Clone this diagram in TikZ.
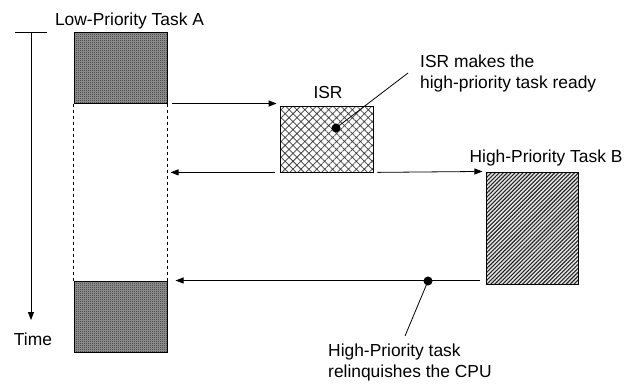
\documentclass[tikz,border=0pt]{standalone}
\usepackage{fontspec}
\setmainfont{Liberation Sans}
\usetikzlibrary{arrows.meta,patterns,patterns.meta}
\tikzdeclarepattern{
  name=checker, type=uncolored,
  bounding box={(0pt,0pt) and (2pt,2pt)},
  tile size={(2pt,2pt)},
  code={\fill (0pt,0pt) rectangle (1pt,1pt); \fill (1pt,1pt) rectangle (2pt,2pt);}
}
\tikzset{
  lbl/.style={font=\fontsize{17.4}{21}\selectfont, inner sep=0pt},
  taskA/.style={draw, line width=1pt, inner sep=0pt, preaction={fill=black!38}, pattern=checker, pattern color=black},
  isrbox/.style={draw, line width=1pt, inner sep=0pt, preaction={fill=white}, pattern={Hatch[angle=45,distance=5.6pt,line width=0.75pt]}, pattern color=black!75},
  taskB/.style={draw, line width=1pt, inner sep=0pt, preaction={fill=black!10}, pattern={Lines[angle=45,distance=2.8pt,line width=1.1pt]}, pattern color=black!85},
  arr/.style={line width=0.8pt, -{Triangle[length=8pt,width=6pt]}},
  thin line/.style={line width=0.8pt},
  dot/.style={circle, fill=black, inner sep=0pt, minimum size=9pt}
}
\begin{document}
\begin{tikzpicture}[x=1pt,y=-1pt]
\useasboundingbox (0,0) rectangle (628,383);
% boxes
\node[taskA, minimum width=93pt, minimum height=71pt] (A1) at (120.5,67.5) {};
\node[taskA, minimum width=93pt, minimum height=71pt] (A2) at (120.5,316.5) {};
\node[isrbox, minimum width=93pt, minimum height=66pt] (ISR) at (326.5,139) {};
\node[taskB, minimum width=92pt, minimum height=112pt] (B) at (532,228) {};
% dashed sides
\draw[dashed, line width=0.8pt] (A1.south west) -- (A2.north west);
\draw[dashed, line width=0.8pt] (A1.south east) -- (A2.north east);
% labels
\node[lbl, anchor=base] (lA) at (129.5,25) {Low-Priority Task A};
\node[lbl, anchor=base] (lISR) at (328,98) {ISR};
\node[lbl, anchor=base] (lB) at (546,162) {High-Priority Task B};
\node[lbl, anchor=base] (lT) at (33,345) {Time};
% time axis
\coordinate (t0) at (15,32);
\coordinate (t1) at (47,32);
\coordinate (tt) at (31,32);
\coordinate (tb) at (31,320);
\draw[thin line] (t0) -- (t1);
\draw[arr] (tt) -- (tb);
% arrows
\draw[arr] ([xshift=4pt]A1.south east) -- ([xshift=-3pt]A1.south east -| ISR.west);
\draw[arr] ([xshift=-5pt]ISR.south west) -- ([xshift=3pt]ISR.south west -| A1.east);
\draw[arr] ([xshift=4pt]ISR.south east) -- ([xshift=-3pt]B.north west);
\coordinate (r4) at ([xshift=-5pt]B.west |- A2.north);
\draw[arr] (r4) -- ([xshift=8pt]A2.north east);
% annotations
\node[dot] (d1) at (336,128) {};
\coordinate (c1) at (408,73);
\draw[thin line] (d1.center) -- (c1);
\node[lbl, anchor=base west] (n1a) at (420,67) {ISR makes the};
\node[lbl, anchor=base west] (n1b) at (420,88) {high-priority task ready};
\node[dot] (d2) at (428,281) {};
\coordinate (c2) at (405,336);
\draw[thin line] (d2.center) -- (c2);
\node[lbl, anchor=base west] (n2a) at (328,356) {High-Priority task};
\node[lbl, anchor=base west] (n2b) at (328,377) {relinquishes the CPU};
\end{tikzpicture}
\end{document}
